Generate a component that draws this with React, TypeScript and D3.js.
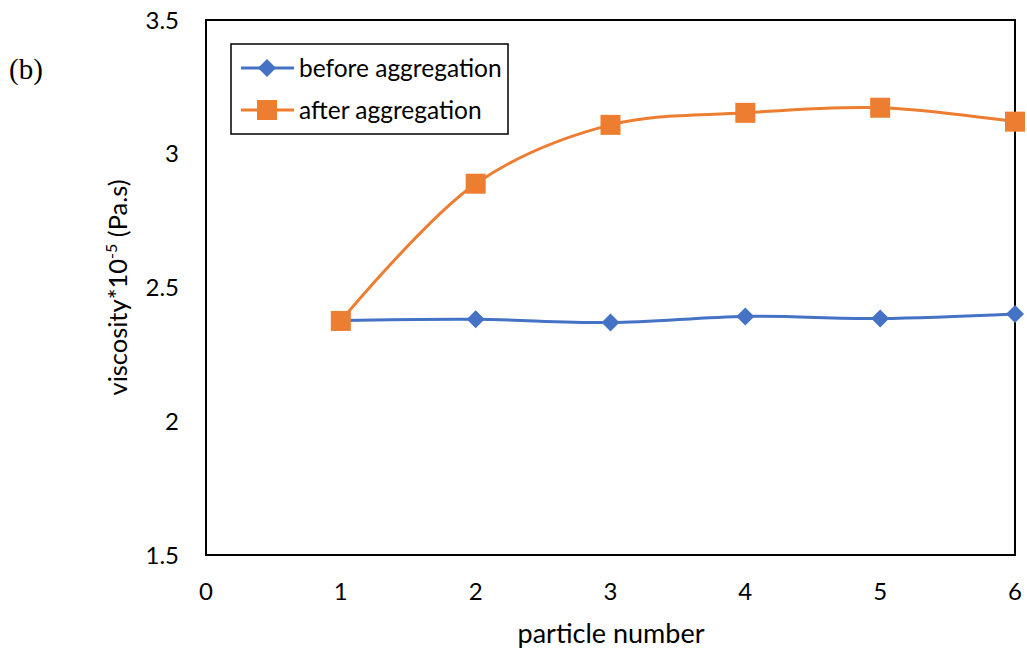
import React, { useEffect, useRef } from "react";
import * as d3 from "d3";

const particles = [1, 2, 3, 4, 5, 6];
const before = [2.377, 2.381, 2.369, 2.392, 2.384, 2.401];
const after = [2.375, 2.888, 3.108, 3.153, 3.172, 3.12];
const xTicks = [0, 1, 2, 3, 4, 5, 6];
const yTicks = [1.5, 2, 2.5, 3, 3.5];
const seriesNames = ["before aggregation", "after aggregation"];

const FONT = "Lato, 'Open Sans', sans-serif";

export default function App() {
  const ref = useRef<SVGSVGElement | null>(null);

  useEffect(() => {
    const svg = d3.select(ref.current);
    svg.selectAll("*").remove();

    const left = 206, right = 1015, top = 20, bottom = 555;

    const x = d3.scaleLinear().domain([0, 6]).range([left, right]);
    const y = d3.scaleLinear().domain([1.5, 3.5]).range([bottom, top]);

    // frame
    svg.append("rect")
      .attr("x", left).attr("y", top)
      .attr("width", right - left).attr("height", bottom - top)
      .attr("fill", "none").attr("stroke", "#000").attr("stroke-width", 2);

    // tick labels
    svg.append("g").selectAll("text").data(yTicks).enter().append("text")
      .attr("x", 179).attr("y", d => y(d)).attr("dy", "0.36em")
      .attr("text-anchor", "end").attr("font-family", FONT).attr("font-size", 24)
      .text(d => String(d));

    svg.append("g").selectAll("text").data(xTicks).enter().append("text")
      .attr("x", d => x(d)).attr("y", bottom + 45)
      .attr("text-anchor", "middle").attr("font-family", FONT).attr("font-size", 24)
      .text(d => String(d));

    // axis titles
    svg.append("text")
      .attr("x", 611).attr("y", 643)
      .attr("text-anchor", "middle").attr("font-family", FONT).attr("font-size", 27)
      .text("particle number");

    const yt = svg.append("text")
      .attr("transform", `translate(127,${(top + bottom) / 2}) rotate(-90)`)
      .attr("text-anchor", "middle").attr("font-family", FONT).attr("font-size", 25.5);
    yt.append("tspan").text("viscosity*10");
    yt.append("tspan").attr("font-size", 16).attr("dy", -10).text("-5");
    yt.append("tspan").attr("dy", 10).text(" (Pa.s)");

    svg.append("text")
      .attr("x", 9).attr("y", 79)
      .attr("font-family", "'Liberation Serif', 'DejaVu Serif', serif").attr("font-size", 29)
      .text("(b)");

    const line = d3.line<number>()
      .x((_, i) => x(particles[i]))
      .y(d => y(d))
      .curve(d3.curveCatmullRom.alpha(0.5));

    const blue = "#4472C4", orange = "#ED7D31";

    const diamond = (cx: number, cy: number, r: number) =>
      `M${cx},${cy - r}L${cx + r},${cy}L${cx},${cy + r}L${cx - r},${cy}Z`;

    // before
    svg.append("path").datum(before).attr("d", line)
      .attr("fill", "none").attr("stroke", blue).attr("stroke-width", 3);
    svg.append("g").selectAll("path").data(before).enter().append("path")
      .attr("d", (d, i) => diamond(x(particles[i]), y(d), 9))
      .attr("fill", blue);

    // after
    svg.append("path").datum(after).attr("d", line)
      .attr("fill", "none").attr("stroke", orange).attr("stroke-width", 3);
    svg.append("g").selectAll("rect").data(after).enter().append("rect")
      .attr("x", (d, i) => x(particles[i]) - 10).attr("y", d => y(d) - 10)
      .attr("width", 20).attr("height", 20)
      .attr("fill", orange);

    // legend
    const lg = svg.append("g");
    lg.append("rect")
      .attr("x", 231).attr("y", 44).attr("width", 277).attr("height", 90)
      .attr("fill", "#fff").attr("stroke", "#000").attr("stroke-width", 1.5);
    const colors = [blue, orange];
    seriesNames.forEach((name, i) => {
      const cy = 68 + i * 42;
      lg.append("line").attr("x1", 241).attr("x2", 294).attr("y1", cy).attr("y2", cy)
        .attr("stroke", colors[i]).attr("stroke-width", 3);
      if (i === 0) {
        lg.append("path").attr("d", diamond(267, cy, 9)).attr("fill", blue);
      } else {
        lg.append("rect").attr("x", 257).attr("y", cy - 10).attr("width", 20).attr("height", 20)
          .attr("fill", orange);
      }
      lg.append("text").attr("x", 299).attr("y", cy).attr("dy", "0.35em")
        .attr("font-family", FONT).attr("font-size", 24.5).text(name);
    });
  }, []);

  return (
    <svg ref={ref} width={1027} height={655}
      style={{ position: "absolute", left: 0, top: 0, background: "#fff" }} />
  );
}
